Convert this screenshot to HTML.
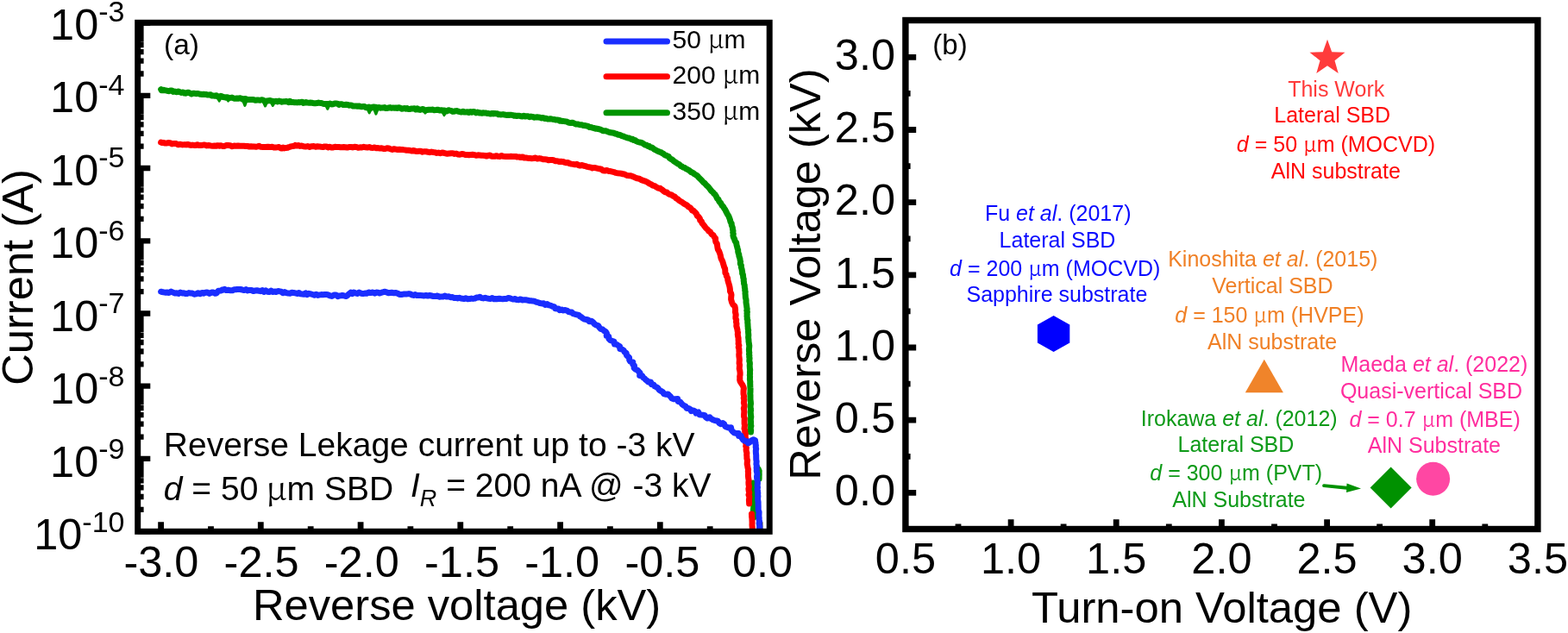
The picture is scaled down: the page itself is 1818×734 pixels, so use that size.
<!DOCTYPE html>
<html><head><meta charset="utf-8"><title>Reverse leakage and breakdown comparison</title>
<style>html,body{margin:0;padding:0;background:#fff;}svg{display:block;}</style></head>
<body><svg width="1818" height="734" viewBox="0 0 1818 734">
<rect width="1818" height="734" fill="#fff"/>
<clipPath id="cl"><rect x="159.7" y="26.3" width="732.5" height="590.0"/></clipPath>
<path d="M159.7,26.6 H174.3 M159.7,85.5 H166.6 M159.7,70.6 H166.6 M159.7,60.1 H166.6 M159.7,52.0 H166.6 M159.7,45.3 H166.6 M159.7,39.6 H166.6 M159.7,34.8 H166.6 M159.7,30.5 H166.6 M159.7,110.8 H174.3 M159.7,169.7 H166.6 M159.7,154.9 H166.6 M159.7,144.3 H166.6 M159.7,136.2 H166.6 M159.7,129.5 H166.6 M159.7,123.9 H166.6 M159.7,119.0 H166.6 M159.7,114.7 H166.6 M159.7,195.0 H174.3 M159.7,253.9 H166.6 M159.7,239.1 H166.6 M159.7,228.6 H166.6 M159.7,220.4 H166.6 M159.7,213.7 H166.6 M159.7,208.1 H166.6 M159.7,203.2 H166.6 M159.7,198.9 H166.6 M159.7,279.3 H174.3 M159.7,338.1 H166.6 M159.7,323.3 H166.6 M159.7,312.8 H166.6 M159.7,304.6 H166.6 M159.7,297.9 H166.6 M159.7,292.3 H166.6 M159.7,287.4 H166.6 M159.7,283.1 H166.6 M159.7,363.5 H174.3 M159.7,422.3 H166.6 M159.7,407.5 H166.6 M159.7,397.0 H166.6 M159.7,388.8 H166.6 M159.7,382.2 H166.6 M159.7,376.5 H166.6 M159.7,371.6 H166.6 M159.7,367.3 H166.6 M159.7,447.7 H174.3 M159.7,506.6 H166.6 M159.7,491.7 H166.6 M159.7,481.2 H166.6 M159.7,473.1 H166.6 M159.7,466.4 H166.6 M159.7,460.7 H166.6 M159.7,455.9 H166.6 M159.7,451.6 H166.6 M159.7,531.9 H174.3 M159.7,590.8 H166.6 M159.7,576.0 H166.6 M159.7,565.4 H166.6 M159.7,557.3 H166.6 M159.7,550.6 H166.6 M159.7,545.0 H166.6 M159.7,540.1 H166.6 M159.7,535.8 H166.6 M159.7,616.1 H174.3" stroke="#000" stroke-width="6.3" fill="none"/>
<path d="M186.6,616.3 V605.2 M302.3,616.3 V605.2 M418.1,616.3 V605.2 M533.8,616.3 V605.2 M649.6,616.3 V605.2 M765.3,616.3 V605.2 M881.0,616.3 V605.2 M244.5,616.3 V610.3 M360.2,616.3 V610.3 M475.9,616.3 V610.3 M591.7,616.3 V610.3 M707.4,616.3 V610.3 M823.2,616.3 V610.3" stroke="#000" stroke-width="6.8" fill="none"/>
<g clip-path="url(#cl)" fill="none" stroke-linecap="round" stroke-linejoin="round" stroke-width="7">
<path d="M186.7,103.7 L187.4,104.8 L188.5,104.8 L189.8,104.2 L191.0,104.7 L192.5,104.9 L194.0,105.3 L195.6,105.7 L197.4,105.0 L199.2,105.1 L200.9,106.4 L202.8,106.1 L204.7,106.8 L206.7,106.0 L208.5,106.8 L210.3,107.4 L212.2,106.9 L213.9,108.1 L215.5,108.2 L217.2,107.2 L218.8,107.3 L220.4,108.2 L222.1,109.0 L223.9,108.3 L225.6,108.3 L227.3,108.7 L229.1,108.4 L230.9,108.8 L232.6,109.3 L234.3,109.5 L236.1,109.3 L237.8,109.5 L239.4,109.6 L241.0,110.1 L242.6,110.1 L244.2,109.8 L245.5,111.1 L247.0,110.9 L249.0,111.2 L251.0,110.8 L252.6,112.1 L254.2,112.1 L255.9,111.3 L257.4,111.8 L258.8,112.5 L260.3,112.7 L261.9,113.2 L263.5,112.7 L265.2,113.5 L267.0,113.4 L269.0,113.1 L270.4,113.7 L271.8,114.2 L273.3,114.3 L274.8,114.0 L276.4,114.3 L278.0,113.7 L279.6,114.1 L281.1,115.0 L282.8,114.7 L284.5,114.5 L286.1,115.1 L287.8,115.5 L289.5,115.6 L291.3,115.4 L293.0,115.6 L294.7,115.8 L296.5,116.3 L298.2,116.1 L300.0,116.1 L301.5,116.3 L303.2,115.7 L304.8,115.9 L306.4,116.9 L308.0,117.4 L309.8,116.9 L311.5,116.7 L313.3,116.5 L315.0,117.0 L316.7,117.8 L318.4,117.6 L320.2,117.3 L321.9,117.9 L323.6,117.0 L325.3,117.5 L326.9,118.2 L328.5,117.8 L330.1,117.7 L331.7,117.5 L333.2,117.9 L334.6,118.6 L336.0,117.3 L337.9,118.5 L339.7,118.6 L341.4,118.8 L343.0,118.7 L344.5,118.9 L346.0,118.6 L347.5,118.7 L348.9,118.6 L350.4,118.2 L351.7,119.4 L353.3,119.0 L354.8,118.6 L356.4,119.1 L358.2,119.2 L360.0,119.1 L361.5,119.2 L362.9,119.5 L364.5,119.7 L366.0,119.7 L367.6,119.6 L369.3,119.1 L370.9,119.4 L372.6,119.4 L374.2,120.1 L375.9,120.5 L377.6,120.5 L379.3,120.6 L381.1,120.7 L382.8,120.0 L384.5,120.9 L386.2,120.8 L388.0,120.1 L389.7,120.1 L391.4,120.2 L393.0,121.4 L394.7,120.8 L396.4,120.7 L397.9,121.6 L399.6,121.4 L401.3,121.2 L403.0,121.5 L404.5,122.2 L406.3,121.9 L407.9,122.2 L409.5,123.1 L411.2,122.9 L412.8,122.9 L414.5,123.3 L416.2,122.9 L417.8,123.5 L419.4,123.7 L421.1,123.6 L422.7,123.6 L424.3,124.8 L426.0,124.4 L427.7,124.1 L429.3,124.7 L430.9,125.1 L432.6,124.0 L434.3,124.1 L435.9,124.3 L437.5,125.1 L439.2,124.4 L440.8,125.2 L442.5,125.1 L444.1,125.0 L445.8,124.5 L447.4,125.6 L449.1,125.4 L450.7,125.0 L452.4,124.6 L454.0,125.3 L455.7,124.9 L457.3,125.2 L459.0,124.9 L460.6,125.5 L462.3,124.7 L464.0,125.1 L465.6,126.2 L467.2,126.1 L468.9,125.4 L470.5,126.3 L472.2,125.6 L473.8,126.6 L475.5,126.4 L477.2,126.0 L478.8,125.9 L480.5,125.7 L482.1,127.0 L483.8,125.9 L485.4,127.1 L487.0,127.4 L488.7,126.9 L490.4,126.5 L492.0,127.5 L493.6,127.7 L495.3,127.5 L496.9,127.3 L498.6,127.2 L500.2,127.2 L501.9,127.1 L503.5,127.8 L505.1,127.6 L506.8,127.3 L508.4,127.3 L510.0,128.1 L511.7,127.7 L513.3,128.1 L515.0,127.9 L516.6,128.8 L518.2,128.9 L520.0,127.7 L521.6,128.1 L523.3,128.4 L525.0,129.4 L526.6,129.2 L528.3,128.7 L530.0,128.6 L531.6,129.3 L533.3,129.7 L535.0,129.9 L536.8,129.2 L538.4,130.0 L540.2,129.9 L541.9,129.7 L543.6,130.5 L545.3,129.5 L547.0,130.3 L548.7,129.6 L550.4,129.8 L552.0,130.9 L553.7,130.1 L555.3,130.9 L556.9,130.8 L558.4,131.3 L560.0,130.8 L561.7,130.9 L563.4,131.0 L564.9,131.6 L566.5,131.5 L567.9,131.9 L569.3,131.9 L570.8,131.4 L572.2,131.9 L573.7,131.6 L575.1,131.7 L576.6,131.8 L578.0,132.7 L579.6,132.7 L581.3,132.9 L583.1,132.6 L584.9,133.0 L586.9,133.4 L589.0,133.2 L590.3,133.5 L591.7,133.3 L593.1,133.3 L594.5,133.6 L596.0,134.2 L597.5,134.1 L599.0,134.5 L600.6,134.2 L602.2,134.2 L603.8,134.8 L605.5,134.9 L607.2,134.3 L608.8,135.0 L610.6,134.7 L612.3,134.8 L613.9,135.7 L615.7,135.1 L617.5,135.4 L619.1,136.2 L620.9,135.9 L622.7,135.8 L624.4,136.0 L626.2,136.3 L627.9,136.9 L629.6,136.5 L631.3,137.5 L633.0,137.2 L634.6,137.9 L636.3,138.1 L638.0,137.8 L639.6,138.0 L641.2,138.5 L642.8,138.4 L644.3,139.1 L646.0,138.9 L647.6,139.1 L649.0,140.2 L650.7,139.9 L652.2,140.5 L653.8,140.6 L655.4,140.8 L657.0,140.9 L658.5,141.9 L660.0,142.3 L661.6,142.6 L663.4,142.2 L664.9,142.6 L666.4,143.3 L667.9,144.0 L669.6,143.9 L671.2,144.4 L672.7,144.7 L674.4,144.7 L675.9,145.4 L677.6,145.5 L679.1,145.8 L680.8,146.1 L682.3,146.6 L683.7,147.6 L685.4,147.6 L687.0,148.1 L688.6,148.5 L690.1,149.2 L691.8,149.1 L693.5,149.5 L695.1,149.9 L696.8,150.4 L698.3,151.3 L699.9,151.8 L701.7,151.7 L703.4,152.2 L705.0,152.8 L706.6,153.3 L708.3,153.8 L710.0,154.0 L711.7,154.3 L713.3,155.0 L715.0,155.3 L716.5,156.2 L718.2,156.3 L719.8,156.8 L721.3,157.8 L722.9,158.0 L724.3,158.9 L726.0,159.2 L727.4,160.0 L729.0,159.9 L730.4,160.7 L731.8,161.4 L733.4,161.3 L734.5,162.6 L736.1,162.4 L737.7,163.6 L739.4,164.5 L741.2,165.0 L743.1,165.3 L744.8,165.9 L746.3,166.9 L747.8,168.0 L749.7,168.2 L751.0,169.4 L752.8,169.6 L754.0,170.9 L755.9,170.9 L757.2,171.9 L758.4,173.1 L759.8,173.7 L761.2,174.5 L762.5,175.2 L763.9,175.8 L765.2,176.4 L766.6,176.7 L767.7,177.6 L769.0,178.0 L769.9,179.1 L771.8,180.1 L773.7,180.8 L775.4,181.7 L776.4,183.4 L777.8,184.3 L779.2,185.0 L780.4,185.9 L781.4,187.1 L782.8,187.7 L784.0,188.6 L785.2,189.4 L786.5,190.2 L787.9,190.9 L789.1,192.4 L790.8,193.1 L792.3,194.2 L794.1,194.7 L795.5,195.8 L797.2,196.5 L798.7,197.3 L800.1,198.4 L801.4,199.6 L802.9,200.1 L804.2,201.0 L805.4,202.0 L807.2,203.0 L808.8,204.1 L809.9,205.5 L811.1,206.7 L812.3,207.9 L813.5,209.0 L814.6,210.4 L815.9,211.7 L817.3,212.7 L818.4,214.0 L819.6,215.3 L821.0,216.4 L822.1,217.8 L823.2,219.2 L824.2,220.6 L825.4,222.0 L826.8,223.0 L827.7,224.5 L829.1,225.6 L830.1,227.1 L830.8,228.6 L831.6,230.2 L833.0,231.3 L833.5,232.9 L834.4,234.3 L835.6,235.4 L836.4,237.0 L837.2,238.3 L838.4,239.4 L839.1,240.7 L839.9,242.0 L840.9,243.2 L841.5,244.7 L842.4,246.3 L843.0,247.7 L843.9,249.1 L844.9,250.6 L845.5,252.3 L846.2,254.0 L846.6,255.8 L847.1,257.5 L848.2,259.0 L848.2,260.7 L848.7,262.1 L849.4,264.1 L849.5,266.0 L850.0,267.8 L849.7,269.6 L850.3,271.3 L849.9,273.0 L850.3,274.6 L850.9,276.1 L851.7,277.4 L851.9,278.8 L852.5,280.1 L853.7,281.4 L853.9,283.5 L854.2,284.8 L854.7,286.4 L855.1,288.1 L855.7,289.8 L855.7,291.7 L856.1,293.5 L856.8,295.2 L856.9,297.0 L857.5,298.6 L857.9,300.0 L858.2,301.9 L858.6,303.4 L858.3,304.9 L858.5,306.3 L859.4,307.8 L859.4,310.0 L859.8,311.2 L860.2,312.5 L860.4,314.0 L860.7,315.4 L860.6,317.0 L861.4,318.5 L861.6,320.2 L861.7,321.9 L862.3,323.6 L862.2,325.4 L862.5,327.2 L862.6,329.0 L863.2,330.5 L863.3,332.0 L863.4,333.6 L863.8,335.1 L863.7,336.8 L864.2,338.4 L864.0,340.1 L864.2,341.8 L864.3,343.5 L864.4,345.2 L864.9,346.9 L865.1,348.6 L865.0,350.3 L865.2,352.0 L865.5,353.6 L865.7,355.2 L865.9,356.9 L866.2,358.5 L865.8,360.1 L866.4,361.7 L866.0,363.4 L866.2,365.0 L866.0,366.6 L866.3,368.2 L866.2,369.9 L866.9,371.5 L866.7,373.1 L866.8,374.7 L867.0,376.4 L867.0,378.0 L867.2,379.6 L867.2,381.3 L867.7,382.9 L867.5,384.5 L867.6,386.1 L867.8,387.7 L867.8,389.4 L867.6,391.0 L867.8,392.6 L868.0,394.3 L868.0,395.9 L868.3,397.6 L868.5,399.2 L868.8,400.9 L868.7,402.6 L868.5,404.2 L868.4,405.8 L868.5,407.4 L868.8,409.0 L868.5,410.6 L868.9,412.2 L868.7,413.8 L869.1,415.4 L868.9,417.0 L868.8,418.7 L869.3,420.3 L869.4,422.0 L869.2,423.7 L869.3,425.5 L869.4,427.2 L869.7,429.0 L869.5,430.5 L869.5,432.0 L869.6,433.5 L869.3,435.1 L869.6,436.6 L869.5,438.1 L869.4,439.7 L869.6,441.2 L869.8,442.8 L869.7,444.4 L869.8,446.0 L869.8,447.6 L869.9,449.3 L870.1,451.0 L870.0,452.7 L870.0,454.5 L869.8,456.3 L870.0,458.1 L870.0,460.0 L870.0,461.5 L870.0,463.1 L870.2,464.7 L870.4,466.4 L870.5,468.2 L870.2,470.0 L870.1,471.9 L870.3,473.8 L870.6,475.7 L870.2,477.7 L870.4,479.6 L870.5,481.5 L870.8,483.4 L870.5,485.2 L870.3,487.1 L870.6,488.8 L870.6,490.6 L870.4,492.2 L870.9,493.8 L870.5,495.3 L870.3,496.6 L870.4,497.9 L870.7,499.1 L870.5,500.1 L870.5,501.0" stroke="#009400"/>
<path d="M251.2,111.7 L254.2,117.1 L257.2,111.7" stroke="#009400" stroke-width="3" stroke-linejoin="round" fill="#009400"/>
<path d="M261.6,112.9 L264.6,117.1 L267.6,112.9" stroke="#009400" stroke-width="3" stroke-linejoin="round" fill="#009400"/>
<path d="M280.9,114.7 L283.9,122.4 L286.9,114.7" stroke="#009400" stroke-width="3" stroke-linejoin="round" fill="#009400"/>
<path d="M304.5,116.6 L307.5,123.0 L310.5,116.6" stroke="#009400" stroke-width="3" stroke-linejoin="round" fill="#009400"/>
<path d="M313.3,117.0 L316.3,122.4 L319.3,117.0" stroke="#009400" stroke-width="3" stroke-linejoin="round" fill="#009400"/>
<path d="M376.8,120.3 L379.8,126.3 L382.8,120.3" stroke="#009400" stroke-width="3" stroke-linejoin="round" fill="#009400"/>
<path d="M425.2,124.5 L428.2,130.9 L431.2,124.5" stroke="#009400" stroke-width="3" stroke-linejoin="round" fill="#009400"/>
<path d="M432.9,124.6 L435.9,132.2 L438.9,124.6" stroke="#009400" stroke-width="3" stroke-linejoin="round" fill="#009400"/>
<path d="M490.0,127.1 L493.0,131.1 L496.0,127.1" stroke="#009400" stroke-width="3" stroke-linejoin="round" fill="#009400"/>
<path d="M512.0,128.2 L515.0,133.6 L518.0,128.2" stroke="#009400" stroke-width="3" stroke-linejoin="round" fill="#009400"/>
<path d="M873.2,560.0 L873.2,561.1 L873.8,562.6 L873.8,564.2 L873.3,566.1 L873.4,568.1 L873.5,570.3 L873.7,572.6 L873.5,575.0 L873.6,577.5 L873.6,580.0 L873.9,582.5 L873.7,585.0 L873.8,587.4 L873.6,589.7 L873.4,591.9 L873.5,593.9 L873.7,595.8 L873.8,597.4 L873.9,598.9 L874.1,600.0" stroke="#009400"/>
<path d="M877.4,540.1 L878.4,541.5 L880.1,543.4 L881.2,546.0 L881.1,547.9 L881.2,550.2 L881.1,552.5 L881.1,554.6 L881.0,556.0" stroke="#009400" stroke-width="5"/>
<path d="M186.6,165.1 L187.8,165.6 L189.3,165.5 L190.9,165.9 L192.8,166.1 L194.9,165.6 L197.1,165.7 L199.4,166.9 L201.8,166.4 L204.3,166.6 L206.7,167.7 L209.2,167.3 L211.6,167.9 L214.0,167.6 L215.9,167.9 L217.7,167.4 L219.5,168.0 L221.3,168.4 L223.2,168.1 L225.0,168.4 L226.9,168.4 L228.8,167.7 L230.7,168.6 L232.8,168.4 L234.9,168.2 L237.1,167.9 L239.4,168.9 L241.8,168.5 L244.3,168.9 L247.0,169.2 L248.7,169.0 L250.4,169.3 L252.3,168.7 L254.2,169.2 L256.2,168.8 L258.3,169.5 L260.4,169.4 L262.5,168.5 L264.7,168.6 L266.9,168.7 L269.2,169.7 L271.4,169.1 L273.7,169.3 L276.0,169.0 L278.2,169.3 L280.5,169.2 L282.7,169.2 L284.9,169.5 L287.0,169.5 L289.1,170.0 L291.2,169.7 L293.2,170.1 L295.1,170.0 L297.0,170.2 L298.7,169.9 L300.4,169.3 L302.0,170.2 L305.1,170.5 L307.9,170.5 L310.6,170.3 L313.2,170.6 L315.6,170.2 L317.7,171.1 L319.8,170.9 L321.7,170.8 L323.5,170.6 L325.1,171.7 L326.7,172.0 L328.2,171.0 L329.5,171.9 L333.3,171.3 L334.6,170.6 L335.9,170.3 L337.2,169.9 L341.1,169.3 L342.4,168.4 L343.9,169.1 L345.8,168.5 L347.7,169.4 L349.8,169.0 L352.0,169.8 L354.3,170.1 L356.7,169.6 L359.1,170.4 L361.5,169.7 L363.8,169.5 L366.0,170.3 L368.1,169.7 L370.0,169.9 L372.3,170.3 L374.4,170.5 L376.4,170.0 L378.4,169.9 L380.3,170.9 L382.2,170.2 L384.2,171.0 L386.2,170.9 L388.3,170.3 L390.6,170.4 L393.0,170.5 L394.8,170.7 L396.6,170.7 L398.6,170.6 L400.5,170.7 L402.6,171.1 L404.6,170.6 L406.7,170.5 L408.9,170.9 L411.0,170.3 L413.2,170.4 L415.3,171.3 L417.5,170.8 L419.7,170.9 L421.8,170.3 L423.9,170.8 L426.0,171.1 L428.1,170.5 L430.1,171.3 L432.2,171.5 L434.3,170.9 L436.3,171.7 L438.4,171.6 L440.4,172.0 L442.5,171.8 L444.5,172.4 L446.6,172.5 L448.7,171.8 L450.8,172.0 L452.8,172.9 L454.8,173.4 L457.0,172.7 L459.0,173.1 L461.1,173.5 L463.1,173.3 L465.2,173.5 L467.3,173.6 L469.3,173.9 L471.4,174.3 L473.5,174.2 L475.5,174.5 L477.5,175.1 L479.7,174.4 L481.7,175.2 L483.7,175.6 L485.8,175.3 L487.9,175.3 L489.9,176.2 L492.0,175.7 L494.1,175.8 L496.1,176.2 L498.1,176.7 L500.2,176.1 L502.3,176.5 L504.3,176.7 L506.3,177.4 L508.4,177.1 L510.4,177.7 L512.5,177.0 L514.6,177.3 L516.6,177.8 L518.7,178.3 L520.8,177.9 L522.9,177.7 L525.0,177.7 L527.0,178.4 L529.1,178.1 L531.1,179.0 L533.2,179.2 L535.4,178.5 L537.5,178.8 L539.5,179.5 L541.7,179.5 L543.8,179.8 L545.9,179.4 L548.0,179.3 L550.1,179.6 L552.1,180.3 L554.2,179.8 L556.2,180.0 L558.1,180.2 L560.0,180.3 L562.2,180.4 L564.3,181.1 L566.3,180.2 L568.1,180.1 L570.0,181.2 L571.8,181.2 L573.6,181.3 L575.5,180.7 L577.4,181.3 L579.4,181.4 L581.6,180.6 L583.8,181.3 L586.3,181.5 L589.0,181.5 L590.7,181.4 L592.4,181.3 L594.2,181.4 L596.0,181.4 L597.9,181.4 L599.8,182.1 L601.8,181.9 L603.8,182.6 L605.9,181.9 L608.0,183.1 L610.1,183.0 L612.2,183.4 L614.4,183.5 L616.5,183.7 L618.7,183.5 L621.0,183.0 L623.1,184.1 L625.3,183.6 L627.5,184.0 L629.6,184.7 L631.7,184.7 L633.9,184.9 L635.9,185.8 L638.0,185.6 L640.1,185.6 L642.1,185.8 L644.1,186.8 L646.2,186.7 L648.2,187.4 L650.3,187.2 L652.4,187.4 L654.3,188.1 L656.3,188.8 L658.5,188.5 L660.4,189.6 L662.4,190.1 L664.5,190.4 L666.5,190.8 L668.7,190.3 L670.6,191.4 L672.6,192.1 L674.9,191.5 L676.8,192.2 L678.9,192.6 L680.9,193.4 L682.9,193.7 L685.0,194.1 L686.9,194.9 L689.1,194.4 L691.1,194.9 L693.1,195.4 L695.2,195.8 L697.3,196.2 L699.2,197.7 L701.3,198.0 L703.6,197.5 L705.6,198.4 L707.8,198.6 L709.9,199.1 L712.0,199.6 L714.0,200.4 L716.1,200.8 L718.2,200.9 L720.2,201.2 L722.2,201.8 L724.1,202.0 L725.9,203.0 L727.7,203.6 L729.6,203.7 L731.4,203.8 L733.0,204.3 L734.5,205.0 L736.0,205.7 L738.6,206.8 L741.3,207.2 L743.5,208.6 L745.8,209.4 L748.0,210.1 L750.0,210.9 L751.7,212.0 L753.3,213.1 L755.1,213.7 L756.4,214.8 L758.0,215.3 L759.5,215.8 L760.7,216.7 L763.3,218.2 L765.3,218.3 L766.5,219.3 L767.9,220.1 L769.8,221.8 L771.2,222.7 L773.1,223.0 L774.5,224.4 L776.3,225.3 L778.5,225.9 L780.2,227.2 L782.4,228.0 L783.8,229.9 L785.8,230.9 L787.4,232.4 L789.1,233.4 L790.9,234.5 L792.6,235.9 L794.5,237.0 L796.5,237.9 L797.9,239.7 L800.0,240.6 L801.4,242.1 L802.5,243.9 L804.4,244.6 L805.7,245.9 L807.4,247.8 L808.3,250.2 L810.1,251.6 L811.4,253.3 L811.7,255.4 L813.4,256.7 L814.0,258.8 L815.7,260.6 L817.1,262.7 L818.6,264.6 L820.4,266.1 L821.6,267.9 L823.4,268.9 L825.0,271.5 L827.0,272.8 L828.3,275.1 L829.6,276.5 L829.5,278.5 L829.9,280.6 L831.3,282.5 L831.6,284.7 L831.9,286.9 L832.4,289.2 L833.7,291.4 L834.6,293.7 L835.3,296.0 L835.7,298.3 L836.2,300.1 L837.3,302.2 L837.9,303.6 L838.6,306.0 L839.1,307.6 L839.6,309.5 L840.6,311.6 L840.8,313.9 L840.9,316.3 L842.1,318.2 L842.3,320.1 L843.6,322.4 L843.8,324.6 L844.3,326.7 L845.0,329.0 L845.6,331.0 L846.1,333.2 L846.4,335.5 L846.5,337.9 L847.6,340.0 L848.0,341.9 L847.7,344.7 L847.6,347.1 L848.2,349.2 L848.7,351.0 L849.9,353.3 L851.9,354.9 L852.3,356.7 L852.6,358.9 L852.5,362.0 L852.9,363.5 L853.2,365.1 L852.9,367.0 L852.9,368.9 L853.7,371.0 L853.5,373.2 L854.0,375.5 L853.8,378.0 L854.3,379.8 L854.8,381.6 L855.1,383.6 L855.5,385.6 L855.3,387.7 L855.6,389.9 L856.1,392.0 L856.1,394.2 L856.3,396.4 L856.1,398.6 L856.9,400.6 L856.2,402.6 L856.9,404.7 L856.9,406.9 L857.1,409.0 L856.8,411.1 L856.9,413.2 L857.2,415.3 L857.4,417.3 L857.2,419.3 L857.1,421.3 L857.6,423.2 L857.4,425.0 L857.2,427.5 L857.8,429.9 L858.1,432.2 L858.1,434.5 L857.7,436.6 L857.8,438.6 L857.7,440.4 L858.1,442.1 L859.7,444.8 L861.0,446.6 L862.0,448.9 L862.4,450.6 L862.1,452.3 L862.0,454.2 L862.0,456.7 L862.7,460.0 L862.2,461.6 L862.7,463.3 L862.7,465.1 L862.4,467.1 L863.0,469.2 L863.0,471.4 L862.3,473.6 L862.8,475.9 L862.8,478.2 L862.6,480.6 L862.6,482.9 L863.3,485.1 L863.1,487.4 L863.1,489.3 L863.1,491.2 L863.5,493.1 L863.3,495.0 L863.0,497.0 L863.7,498.9 L863.7,500.8 L864.3,502.7 L864.3,504.7 L864.1,506.8 L864.8,508.8 L864.2,510.9 L864.4,513.1 L865.3,515.2 L864.7,517.4 L865.4,519.3 L865.1,521.3 L865.3,523.3 L865.9,525.3 L865.7,527.4 L865.9,529.5 L865.9,531.7 L866.6,533.8 L866.3,536.0 L866.2,538.2 L866.7,540.3 L867.0,542.4 L867.6,544.5 L867.3,546.6 L867.6,548.7 L867.4,550.7 L867.5,552.6 L867.7,554.5 L868.2,556.9 L867.9,559.4 L868.0,561.9 L868.5,564.3 L867.9,566.8 L868.2,569.2 L868.8,571.6 L868.0,573.8 L868.9,575.9 L868.7,577.9 L868.4,579.8 L868.5,581.4 L868.6,582.8 L868.6,584.0" stroke="#ff0000"/>
<path d="M871.5,596.0 L871.6,597.3 L871.6,599.1 L871.9,601.3 L872.0,603.7 L872.1,606.2 L872.0,608.7 L872.2,610.9 L872.3,612.7 L872.6,614.0" stroke="#ff0000"/>
<path d="M186.6,338.2 L187.8,338.5 L189.5,338.8 L191.4,339.2 L193.6,339.0 L195.9,339.5 L198.4,338.1 L200.7,339.1 L202.9,340.1 L205.0,339.8 L207.0,340.4 L209.2,339.1 L211.0,339.9 L213.0,339.7 L214.9,340.4 L216.8,340.5 L218.9,339.6 L221.0,340.0 L223.0,340.1 L225.2,341.2 L227.4,340.9 L229.7,339.7 L232.0,340.7 L234.1,339.4 L236.3,340.2 L238.2,339.2 L240.0,338.9 L242.8,340.4 L245.3,339.1 L247.4,339.1 L249.4,340.3 L251.3,339.8 L253.1,337.3 L256.3,337.0 L257.4,336.1 L258.9,336.2 L260.5,335.3 L262.4,336.6 L264.6,336.2 L267.1,336.8 L270.0,336.7 L271.5,335.7 L273.2,335.8 L275.0,335.5 L276.9,335.6 L278.8,335.5 L280.9,336.0 L282.9,336.6 L285.1,335.6 L287.2,336.9 L289.4,336.4 L291.6,336.5 L293.7,337.5 L295.9,337.0 L298.0,336.8 L300.0,337.2 L302.0,337.7 L304.1,336.6 L306.0,338.4 L308.1,336.8 L310.0,338.2 L312.1,338.5 L314.2,337.1 L316.1,338.6 L318.2,338.0 L320.1,338.5 L322.2,337.6 L324.2,337.8 L326.1,338.2 L328.0,339.7 L330.0,338.5 L332.0,339.6 L334.1,340.1 L336.2,340.2 L338.3,339.3 L340.4,339.5 L342.5,339.9 L344.5,340.5 L346.6,339.5 L348.5,340.8 L350.5,341.0 L352.4,341.3 L354.4,339.9 L356.1,341.7 L358.0,340.3 L360.3,340.9 L362.4,341.5 L364.5,342.2 L366.7,341.3 L368.6,342.4 L370.7,341.9 L372.6,341.6 L374.5,341.7 L376.4,341.5 L378.3,341.4 L380.0,341.7 L382.4,342.8 L384.8,343.4 L387.3,342.0 L389.5,341.9 L391.6,343.7 L393.6,343.0 L395.4,342.8 L397.0,342.5 L399.9,343.2 L401.6,343.5 L403.0,342.5 L404.2,341.2 L406.7,339.2 L408.4,340.6 L410.1,339.0 L412.1,339.8 L414.2,340.4 L416.4,339.1 L418.7,340.2 L420.9,340.6 L423.1,340.1 L425.0,340.3 L427.4,339.0 L429.8,339.6 L432.2,339.0 L434.5,340.2 L436.5,339.1 L438.4,339.2 L440.2,340.1 L443.1,339.0 L444.5,338.7 L445.7,338.2 L449.0,339.2 L450.4,339.8 L452.2,339.5 L454.2,339.3 L456.3,339.7 L458.6,339.5 L460.9,340.1 L463.2,341.4 L465.5,341.5 L467.8,341.1 L470.0,341.0 L472.0,340.9 L474.0,340.6 L475.9,341.0 L477.7,342.1 L479.5,342.4 L481.5,341.6 L483.4,342.5 L485.5,342.6 L487.7,342.6 L490.0,342.7 L491.9,343.0 L493.9,342.4 L496.0,343.1 L498.2,342.5 L500.4,343.0 L502.6,343.6 L504.9,343.6 L507.2,343.0 L509.4,344.3 L511.6,343.9 L513.7,343.9 L515.9,343.0 L517.8,344.1 L520.1,343.7 L522.2,344.7 L524.4,344.6 L526.5,345.4 L528.6,345.4 L530.6,345.9 L532.6,345.3 L534.5,346.0 L536.4,346.3 L538.2,346.6 L540.0,345.8 L542.3,346.7 L544.5,346.6 L546.6,346.1 L548.6,346.4 L550.5,346.1 L552.4,345.1 L554.3,345.0 L556.3,344.3 L558.3,345.6 L560.3,345.9 L562.5,345.3 L564.5,345.9 L566.5,346.2 L568.6,346.4 L570.7,345.6 L572.7,346.8 L574.7,346.5 L576.8,346.7 L578.8,346.2 L580.9,346.5 L582.9,346.7 L584.9,346.5 L586.9,346.6 L589.0,345.5 L591.1,345.8 L593.1,346.5 L595.1,347.1 L597.3,346.5 L599.2,347.6 L601.3,347.7 L603.5,346.9 L605.4,347.9 L607.5,347.8 L609.6,347.7 L611.6,348.1 L613.6,348.7 L615.7,348.8 L617.7,349.1 L619.8,349.2 L621.7,350.3 L623.8,350.6 L625.9,351.5 L628.0,351.9 L630.3,351.8 L632.1,353.5 L634.5,352.5 L636.3,353.8 L638.1,354.1 L640.2,355.2 L642.5,355.6 L643.7,357.7 L645.8,357.9 L647.7,358.1 L649.0,359.7 L651.3,359.1 L653.2,359.9 L655.3,359.5 L657.7,360.3 L659.0,361.5 L660.8,361.9 L662.9,362.1 L664.5,363.6 L666.6,364.3 L668.8,364.8 L671.1,365.4 L672.4,366.9 L674.2,367.7 L675.8,369.2 L677.6,370.1 L679.8,370.5 L681.9,371.0 L683.3,372.8 L685.9,372.3 L687.5,373.5 L689.1,375.5 L691.0,376.8 L693.5,377.5 L694.8,379.5 L696.3,381.3 L698.6,381.9 L700.1,383.4 L702.2,384.6 L703.5,386.5 L703.2,389.4 L705.8,390.1 L705.9,392.8 L707.6,394.5 L709.7,395.3 L712.0,396.0 L712.4,399.0 L715.0,399.4 L716.8,400.6 L718.7,401.8 L718.8,404.6 L721.4,405.2 L723.2,406.4 L724.2,408.3 L726.2,409.3 L726.4,411.8 L728.1,413.3 L729.6,414.8 L729.7,417.3 L730.7,419.2 L733.8,419.9 L733.7,422.5 L735.5,424.0 L735.1,426.7 L736.8,428.3 L739.3,429.2 L740.5,430.9 L742.1,432.4 L741.7,435.5 L744.7,435.8 L745.5,437.8 L747.3,438.8 L748.6,440.4 L750.3,441.5 L751.8,443.1 L754.6,443.0 L755.4,445.8 L757.8,446.0 L759.1,447.9 L761.2,448.9 L763.0,450.2 L764.4,452.2 L766.4,453.4 L768.4,454.5 L769.6,456.6 L771.7,457.3 L774.3,456.9 L775.9,458.4 L777.5,459.8 L778.8,461.8 L780.7,462.7 L783.1,462.8 L785.7,462.6 L786.2,465.5 L788.5,465.9 L789.9,467.5 L791.3,469.1 L793.1,470.3 L795.0,471.2 L796.0,473.4 L798.5,473.4 L800.2,474.4 L801.4,476.6 L804.1,475.9 L805.9,477.0 L807.1,479.2 L809.8,477.9 L810.9,480.7 L812.9,481.1 L815.1,481.2 L817.1,481.7 L818.4,483.8 L820.2,485.0 L822.9,483.8 L824.4,485.5 L826.2,486.6 L828.1,487.3 L830.2,487.8 L832.3,488.2 L833.6,490.2 L835.3,491.6 L838.0,490.6 L839.7,491.9 L840.8,494.3 L842.7,495.3 L844.8,496.1 L847.5,495.7 L848.1,498.6 L849.5,500.4 L851.2,501.8 L853.5,502.5 L856.3,502.4 L856.6,505.5 L859.2,505.3 L859.7,507.3 L861.7,510.1 L864.2,511.5 L867.0,511.9 L867.8,513.3" stroke="#1a2eff"/>
<path d="M867.5,513.9 L869.1,512.8 L871.2,510.9 L873.6,509.8 L875.6,510.7 L875.6,512.1 L876.0,513.3 L876.0,514.8 L876.4,516.5 L876.2,518.4 L876.7,520.5 L876.3,522.7 L876.4,525.2 L876.7,527.8 L876.7,530.5 L876.8,533.4 L877.2,535.0 L877.0,536.7 L876.9,538.4 L877.4,540.2 L877.1,542.1 L877.3,544.1 L877.2,546.1 L877.7,548.1 L878.0,550.2 L877.5,552.3 L877.6,554.5 L878.0,556.6 L878.4,558.8 L878.4,560.9 L878.1,563.1 L878.5,565.2 L878.1,567.4 L878.4,569.5 L878.8,571.6 L878.6,573.6 L878.9,575.6 L878.6,577.7 L878.7,579.9 L879.1,582.1 L879.1,584.4 L879.2,586.8 L879.2,589.1 L879.2,591.5 L880.1,593.8 L880.0,596.1 L879.9,598.4 L880.2,600.7 L880.1,602.8 L880.6,604.9 L880.1,606.9 L880.5,608.8 L880.9,610.5 L880.6,612.2 L880.9,613.6 L881.1,614.9 L880.9,616.0" stroke="#1a2eff"/>
</g>
<rect x="159.7" y="26.3" width="732.5" height="590.0" fill="none" stroke="#000" stroke-width="7"/>
<g font-family="'Liberation Sans', Arial, sans-serif" fill="#000">
<text x="144.5" y="45.8" text-anchor="end" font-size="50.5">10<tspan font-size="34" dy="-20.5">-3</tspan></text>
<text x="144.5" y="130.3" text-anchor="end" font-size="50.5">10<tspan font-size="34" dy="-20.5">-4</tspan></text>
<text x="144.5" y="214.8" text-anchor="end" font-size="50.5">10<tspan font-size="34" dy="-20.5">-5</tspan></text>
<text x="144.5" y="299.3" text-anchor="end" font-size="50.5">10<tspan font-size="34" dy="-20.5">-6</tspan></text>
<text x="144.5" y="383.8" text-anchor="end" font-size="50.5">10<tspan font-size="34" dy="-20.5">-7</tspan></text>
<text x="144.5" y="468.2" text-anchor="end" font-size="50.5">10<tspan font-size="34" dy="-20.5">-8</tspan></text>
<text x="144.5" y="552.7" text-anchor="end" font-size="50.5">10<tspan font-size="34" dy="-20.5">-9</tspan></text>
<text x="144.5" y="637.2" text-anchor="end" font-size="50.5">10<tspan font-size="34" dy="-20.5">-10</tspan></text>
<text x="186.9" y="668.6" text-anchor="middle" font-size="50.5">-3.0</text>
<text x="303.1" y="668.6" text-anchor="middle" font-size="50.5">-2.5</text>
<text x="419.3" y="668.6" text-anchor="middle" font-size="50.5">-2.0</text>
<text x="535.5" y="668.6" text-anchor="middle" font-size="50.5">-1.5</text>
<text x="651.7" y="668.6" text-anchor="middle" font-size="50.5">-1.0</text>
<text x="767.9" y="668.6" text-anchor="middle" font-size="50.5">-0.5</text>
<text x="884.1" y="668.6" text-anchor="middle" font-size="50.5">0.0</text>
<text x="529.6" y="719" text-anchor="middle" font-size="50.7">Reverse voltage (kV)</text>
<text transform="translate(38,321.5) rotate(-90)" text-anchor="middle" font-size="50.7">Current (A)</text>
<text x="190" y="63" font-size="33.5">(a)</text>
<line x1="703" y1="47.9" x2="773.5" y2="47.9" stroke="#1a2eff" stroke-width="7" stroke-linecap="round"/>
<text x="779.6" y="56.2" font-size="30">50 <tspan font-family="'Noto Serif CJK SC', 'Liberation Serif', serif" dx="-0.6">μ</tspan>m</text>
<line x1="703" y1="88.7" x2="773.5" y2="88.7" stroke="#ff0000" stroke-width="7" stroke-linecap="round"/>
<text x="779.6" y="97.0" font-size="30">200 <tspan font-family="'Noto Serif CJK SC', 'Liberation Serif', serif" dx="-0.6">μ</tspan>m</text>
<line x1="703" y1="130.8" x2="773.5" y2="130.8" stroke="#009400" stroke-width="7" stroke-linecap="round"/>
<text x="779.6" y="139.1" font-size="30">350 <tspan font-family="'Noto Serif CJK SC', 'Liberation Serif', serif" dx="-0.6">μ</tspan>m</text>
<text x="189.8" y="529.2" font-size="39">Reverse Lekage current up to -3 kV</text>
<text x="189.8" y="579.5" font-size="39"><tspan font-style="italic">d</tspan> = 50 <tspan font-family="'Noto Serif CJK SC', 'Liberation Serif', serif" dx="-2">μ</tspan>m SBD</text>
<text x="476" y="576.2" font-size="39"><tspan font-style="italic">I</tspan><tspan font-style="italic" font-size="27" dy="10.5">R</tspan><tspan dy="-10.5"> = 200 nA @ -3 kV</tspan></text>
</g>
<rect x="1049.9" y="23.5" width="733.0" height="590.0" fill="none" stroke="#000" stroke-width="7.4"/>
<path d="M1049.9,571.4 H1062.2 M1049.9,487.2 H1062.2 M1049.9,403.0 H1062.2 M1049.9,318.8 H1062.2 M1049.9,234.7 H1062.2 M1049.9,150.5 H1062.2 M1049.9,66.3 H1062.2 M1049.9,529.3 H1055.6 M1049.9,445.1 H1055.6 M1049.9,360.9 H1055.6 M1049.9,276.8 H1055.6 M1049.9,192.6 H1055.6 M1049.9,108.4 H1055.6 M1172.1,613.5 V602.2 M1294.2,613.5 V602.2 M1416.4,613.5 V602.2 M1538.6,613.5 V602.2 M1660.7,613.5 V602.2 M1111.0,613.5 V607.5 M1233.1,613.5 V607.5 M1355.3,613.5 V607.5 M1477.5,613.5 V607.5 M1599.6,613.5 V607.5 M1721.8,613.5 V607.5" stroke="#000" stroke-width="6.8" fill="none"/>
<g font-family="'Liberation Sans', Arial, sans-serif" fill="#000">
<text x="1038" y="586.1" text-anchor="end" font-size="50.5">0.0</text>
<text x="1038" y="501.9" text-anchor="end" font-size="50.5">0.5</text>
<text x="1038" y="417.7" text-anchor="end" font-size="50.5">1.0</text>
<text x="1038" y="333.5" text-anchor="end" font-size="50.5">1.5</text>
<text x="1038" y="249.4" text-anchor="end" font-size="50.5">2.0</text>
<text x="1038" y="165.2" text-anchor="end" font-size="50.5">2.5</text>
<text x="1038" y="81.0" text-anchor="end" font-size="50.5">3.0</text>
<text x="1049.9" y="664.8" text-anchor="middle" font-size="50.5">0.5</text>
<text x="1172.1" y="664.8" text-anchor="middle" font-size="50.5">1.0</text>
<text x="1294.2" y="664.8" text-anchor="middle" font-size="50.5">1.5</text>
<text x="1416.4" y="664.8" text-anchor="middle" font-size="50.5">2.0</text>
<text x="1538.6" y="664.8" text-anchor="middle" font-size="50.5">2.5</text>
<text x="1660.7" y="664.8" text-anchor="middle" font-size="50.5">3.0</text>
<text x="1782.9" y="664.8" text-anchor="middle" font-size="50.5">3.5</text>
<text x="1416.7" y="721.5" text-anchor="middle" font-size="50.8">Turn-on Voltage (V)</text>
<text transform="translate(950.8,318.1) rotate(-90)" text-anchor="middle" font-size="50.5">Reverse Voltage (kV)</text>
<text x="1081.3" y="63" font-size="33">(b)</text>
</g>
<polygon points="1539.0,45.8 1544.2,60.2 1559.5,60.7 1547.5,70.2 1551.7,84.9 1539.0,76.3 1526.3,84.9 1530.5,70.2 1518.5,60.7 1533.8,60.2" fill="#ff3b3b"/>
<polygon points="1221.6,366.05 1240.3,376.525 1240.3,397.475 1221.6,407.95 1202.8999999999999,397.475 1202.8999999999999,376.525" fill="#0000ff"/>
<polygon points="1465.8,416.7 1487.9,455.2 1443.8,455.2" fill="#f0842a"/>
<polygon points="1612.6,541.6 1636.6,565.5 1612.6,589.4 1588.6,565.5" fill="#009100"/>
<circle cx="1661.6" cy="555.2" r="19.5" fill="#ff47a3"/>
<line x1="1535" y1="563.1" x2="1564" y2="566" stroke="#009100" stroke-width="3.8" stroke-linecap="round"/>
<polygon points="1578,566.6 1561.5,560.4 1561,571" fill="#009100"/>
<g font-family="'Liberation Sans', Arial, sans-serif" font-size="25" fill="#ff0808" text-anchor="middle">
<text x="1549.2" y="111.8"><tspan fill="#ff3a3a">This Work</tspan></text>
<text x="1544.7" y="141.9">Lateral SBD</text>
<text x="1549" y="176.4"><tspan font-style="italic">d</tspan> = 50 <tspan font-family="'Noto Serif CJK SC', 'Liberation Serif', serif">μ</tspan>m (MOCVD)</text>
<text x="1548.8" y="206.6">AlN substrate</text>
</g>
<g font-family="'Liberation Sans', Arial, sans-serif" font-size="25" fill="#0a0aff" text-anchor="middle">
<text x="1226.7" y="255.6">Fu <tspan font-style="italic">et al</tspan>. (2017)</text>
<text x="1226" y="286.7">Lateral SBD</text>
<text x="1223.2" y="319.8"><tspan font-style="italic">d</tspan> = 200 <tspan font-family="'Noto Serif CJK SC', 'Liberation Serif', serif">μ</tspan>m (MOCVD)</text>
<text x="1225.4" y="349.6">Sapphire substrate</text>
</g>
<g font-family="'Liberation Sans', Arial, sans-serif" font-size="25" fill="#f08026" text-anchor="middle">
<text x="1475.8" y="309.3">Kinoshita <tspan font-style="italic">et al</tspan>. (2015)</text>
<text x="1475.4" y="339.8">Vertical SBD</text>
<text x="1471.9" y="374.4"><tspan font-style="italic">d</tspan> = 150 <tspan font-family="'Noto Serif CJK SC', 'Liberation Serif', serif">μ</tspan>m (HVPE)</text>
<text x="1475" y="404.6">AlN substrate</text>
</g>
<g font-family="'Liberation Sans', Arial, sans-serif" font-size="25" fill="#ff2d9e" text-anchor="middle">
<text x="1662.9" y="431.1">Maeda <tspan font-style="italic">et al</tspan>. (2022)</text>
<text x="1659.5" y="461.5">Quasi-vertical SBD</text>
<text x="1663.6" y="495.2"><tspan font-style="italic">d</tspan> = 0.7 <tspan font-family="'Noto Serif CJK SC', 'Liberation Serif', serif">μ</tspan>m (MBE)</text>
<text x="1662.9" y="525">AlN Substrate</text>
</g>
<g font-family="'Liberation Sans', Arial, sans-serif" font-size="25" fill="#0e9a18" text-anchor="middle">
<text x="1436.7" y="493.8">Irokawa <tspan font-style="italic">et al</tspan>. (2012)</text>
<text x="1432.9" y="524.3">Lateral SBD</text>
<text x="1433.2" y="557.1"><tspan font-style="italic">d</tspan> = 300 <tspan font-family="'Noto Serif CJK SC', 'Liberation Serif', serif">μ</tspan>m (PVT)</text>
<text x="1436.4" y="588.4">AlN Substrate</text>
</g>
</svg></body></html>
